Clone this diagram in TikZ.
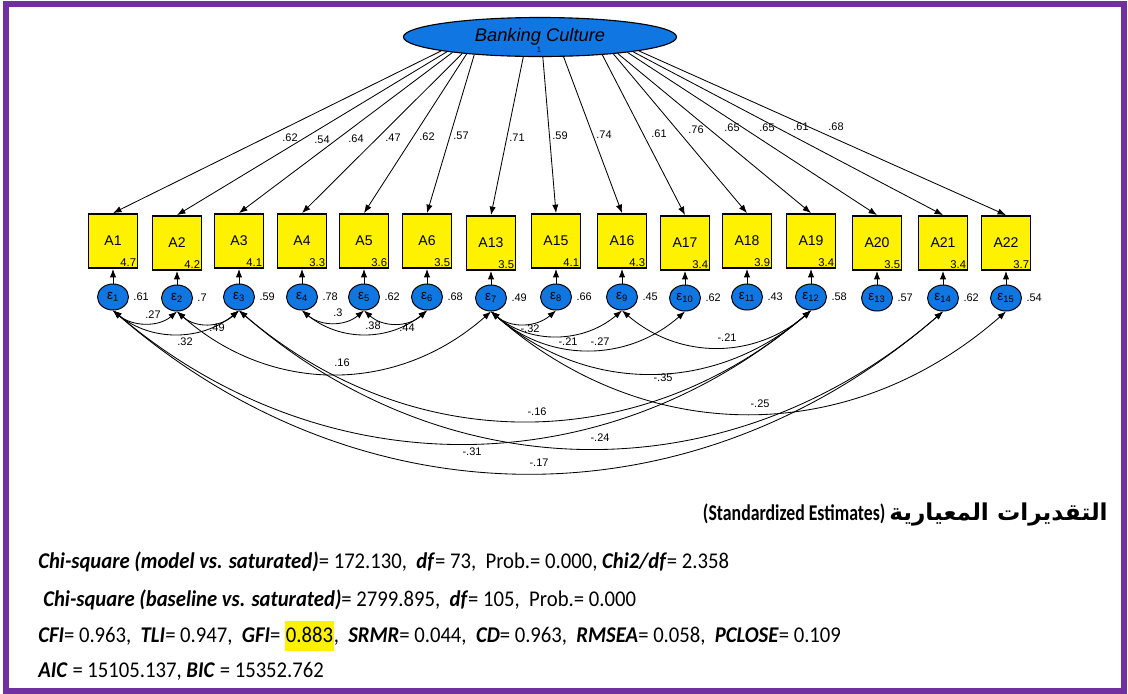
\documentclass[tikz,border=0pt]{standalone}
\usepackage{fontspec}
\setmainfont{Liberation Sans}
\newfontfamily\statfont[FakeStretch=0.92]{Carlito}
\newfontfamily\titlefont[FakeStretch=0.79]{Carlito}
\newfontfamily\arabicfont[Script=Arabic]{DejaVu Sans}
\TeXXeTstate=1
\usetikzlibrary{shapes.geometric,arrows.meta,positioning}
\definecolor{semblue}{RGB}{16,118,226}
\definecolor{framepurple}{RGB}{112,48,160}
\newcommand{\bfit}[1]{\textbf{\textit{#1}}}
\tikzset{
  latent/.style={ellipse, draw, line width=0.8pt, fill=semblue, minimum width=6.825cm, minimum height=0.975cm, font=\fontsize{13}{15}\selectfont\itshape},
  obs/.style={draw, line width=1.3pt, fill=yellow, minimum width=1.225cm, minimum height=1.35cm, inner sep=0pt, font=\fontsize{10}{12}\selectfont},
  err/.style={ellipse, draw, line width=0.7pt, fill=semblue, minimum width=0.775cm, minimum height=0.65cm, inner sep=0pt, font=\fontsize{9.5}{10}\selectfont},
  est/.style={inner sep=1pt, font=\fontsize{7.8}{9}\selectfont},
  mean/.style={inner sep=1.5pt, anchor=south east, font=\fontsize{8}{9}\selectfont},
  load/.style={-{Latex[length=6pt,width=4.5pt]}, line width=0.6pt},
  cov/.style={{Latex[length=6pt,width=4.5pt]}-{Latex[length=6pt,width=4.5pt]}, line width=0.6pt},
  stat/.style={anchor=west, inner sep=0pt, font=\statfont\fontsize{16}{18}\selectfont}
}
\begin{document}
\begin{tikzpicture}[x=0.025cm, y=-0.025cm]
\useasboundingbox (0,0) rectangle (1128,693);
\draw[framepurple, line width=4.3pt] (6,4) rectangle (1124,691);

% latent variable
\node[latent] (BC) at (540,37) {Banking Culture};
\node[inner sep=0pt, font=\fontsize{5.5}{6}\selectfont] (one) at (539,50) {1};

% indicators
\node[obs] (A1) at (113,241) {A1};
\node[obs] (A2) at (177,243) {A2};
\node[obs] (A3) at (239,241) {A3};
\node[obs] (A4) at (302,241) {A4};
\node[obs] (A5) at (364,241) {A5};
\node[obs] (A6) at (427,241) {A6};
\node[obs] (A13) at (491,243) {A13};
\node[obs] (A15) at (556,241) {A15};
\node[obs] (A16) at (622,241) {A16};
\node[obs] (A17) at (685,243) {A17};
\node[obs] (A18) at (747,241) {A18};
\node[obs] (A19) at (811,241) {A19};
\node[obs] (A20) at (877,243) {A20};
\node[obs] (A21) at (943,243) {A21};
\node[obs] (A22) at (1006,243) {A22};

% means
\node[mean] (m1) at (A1.south east) {4.7};
\node[mean] (m2) at (A2.south east) {4.2};
\node[mean] (m3) at (A3.south east) {4.1};
\node[mean] (m4) at (A4.south east) {3.3};
\node[mean] (m5) at (A5.south east) {3.6};
\node[mean] (m6) at (A6.south east) {3.5};
\node[mean] (m13) at (A13.south east) {3.5};
\node[mean] (m15) at (A15.south east) {4.1};
\node[mean] (m16) at (A16.south east) {4.3};
\node[mean] (m17) at (A17.south east) {3.4};
\node[mean] (m18) at (A18.south east) {3.9};
\node[mean] (m19) at (A19.south east) {3.4};
\node[mean] (m20) at (A20.south east) {3.5};
\node[mean] (m21) at (A21.south east) {3.4};
\node[mean] (m22) at (A22.south east) {3.7};

% loadings
\draw[load] (BC.188) -- (A1.north);
\draw[load] (BC.189) -- (A2.north);
\draw[load] (BC.190.5) -- (A3.north);
\draw[load] (BC.192) -- (A4.north);
\draw[load] (BC.193.5) -- (A5.north);
\draw[load] (BC.195) -- (A6.north);
\draw[load] (BC.230) -- (A13.north);
\draw[load] (BC.278) -- (A15.north);
\draw[load] (BC.320) -- (A16.north);
\draw[load] (BC.344.5) -- (A17.north);
\draw[load] (BC.347) -- (A18.north);
\draw[load] (BC.348.5) -- (A19.north);
\draw[load] (BC.350) -- (A20.north);
\draw[load] (BC.351) -- (A21.north);
\draw[load] (BC.352) -- (A22.north);
\node[est] (w1) at (290,138) {.62};
\node[est] (w2) at (322,140) {.54};
\node[est] (w3) at (356,139) {.64};
\node[est] (w4) at (393,138) {.47};
\node[est] (w5) at (427,137) {.62};
\node[est] (w6) at (461,136) {.57};
\node[est] (w13) at (517,138) {.71};
\node[est] (w15) at (560,136) {.59};
\node[est] (w16) at (604,135) {.74};
\node[est] (w17) at (659,134) {.61};
\node[est] (w18) at (696,130) {.76};
\node[est] (w19) at (732,128) {.65};
\node[est] (w20) at (767,128) {.65};
\node[est] (w21) at (801,127) {.61};
\node[est] (w22) at (836,127) {.68};

% errors
\node[err] (e1) at (113,297) {ε\textsubscript{1}};
\node[err] (e2) at (177,298) {ε\textsubscript{2}};
\node[err] (e3) at (239,297) {ε\textsubscript{3}};
\node[err] (e4) at (302,297) {ε\textsubscript{4}};
\node[err] (e5) at (364,297) {ε\textsubscript{5}};
\node[err] (e6) at (427,297) {ε\textsubscript{6}};
\node[err] (e7) at (491,298) {ε\textsubscript{7}};
\node[err] (e8) at (556,297) {ε\textsubscript{8}};
\node[err] (e9) at (622,297) {ε\textsubscript{9}};
\node[err] (e10) at (685,298) {ε\textsubscript{10}};
\node[err] (e11) at (747,297) {ε\textsubscript{11}};
\node[err] (e12) at (811,297) {ε\textsubscript{12}};
\node[err] (e13) at (877,298) {ε\textsubscript{13}};
\node[err] (e14) at (943,298) {ε\textsubscript{14}};
\node[err] (e15) at (1006,298) {ε\textsubscript{15}};
\draw[load] (e1) -- (A1);
\draw[load] (e2) -- (A2);
\draw[load] (e3) -- (A3);
\draw[load] (e4) -- (A4);
\draw[load] (e5) -- (A5);
\draw[load] (e6) -- (A6);
\draw[load] (e7) -- (A13);
\draw[load] (e8) -- (A15);
\draw[load] (e9) -- (A16);
\draw[load] (e10) -- (A17);
\draw[load] (e11) -- (A18);
\draw[load] (e12) -- (A19);
\draw[load] (e13) -- (A20);
\draw[load] (e14) -- (A21);
\draw[load] (e15) -- (A22);
\node[est, right=2pt of e1] (v1) {.61};
\node[est, right=2pt of e2] (v2) {.7};
\node[est, right=2pt of e3] (v3) {.59};
\node[est, right=2pt of e4] (v4) {.78};
\node[est, right=2pt of e5] (v5) {.62};
\node[est, right=2pt of e6] (v6) {.68};
\node[est, right=2pt of e7] (v7) {.49};
\node[est, right=2pt of e8] (v8) {.66};
\node[est, right=2pt of e9] (v9) {.45};
\node[est, right=2pt of e10] (v10) {.62};
\node[est, right=2pt of e11] (v11) {.43};
\node[est, right=2pt of e12] (v12) {.58};
\node[est, right=2pt of e13] (v13) {.57};
\node[est, right=2pt of e14] (v14) {.62};
\node[est, right=2pt of e15] (v15) {.54};

% error covariances
\draw[cov] (e1.south) .. controls +(19,16) and +(-19,16) .. (e2.south);
\draw[cov] (e1.south) .. controls +(38,31) and +(-38,31) .. (e3.south);
\draw[cov] (e2.south) .. controls +(19,17) and +(-19,17) .. (e3.south);
\draw[cov] (e2.south) .. controls +(94,83) and +(-94,83) .. (e7.south);
\draw[cov] (e4.south) .. controls +(19,16) and +(-19,16) .. (e5.south);
\draw[cov] (e4.south) .. controls +(38,31) and +(-38,31) .. (e6.south);
\draw[cov] (e5.south) .. controls +(19,17) and +(-19,17) .. (e6.south);
\draw[cov] (e7.south) .. controls +(20,17) and +(-20,17) .. (e8.south);
\draw[cov] (e7.south) .. controls +(39,33) and +(-39,33) .. (e9.south);
\draw[cov] (e7.south) .. controls +(58,51) and +(-58,51) .. (e10.south);
\draw[cov] (e7.south) .. controls +(96,83) and +(-96,83) .. (e12.south);
\draw[cov] (e7.south) .. controls +(155,136) and +(-155,136) .. (e15.south);
\draw[cov] (e9.south) .. controls +(57,49) and +(-57,49) .. (e12.south);
\draw[cov] (e3.south) .. controls +(172,147) and +(-172,147) .. (e12.south);
\draw[cov] (e3.south) .. controls +(211,183) and +(-211,183) .. (e14.south);
\draw[cov] (e1.south) .. controls +(209,177) and +(-209,177) .. (e12.south);
\draw[cov] (e1.south) .. controls +(249,216) and +(-249,216) .. (e14.south);
\node[est] (c1) at (153,315) {.27};
\node[est] (c2) at (185,342) {.32};
\node[est] (c3) at (217,328) {.49};
\node[est] (c4) at (342,363) {.16};
\node[est] (c5) at (338,313) {.3};
\node[est] (c6) at (373,326) {.38};
\node[est] (c7) at (407,328) {.44};
\node[est] (c8) at (530,329) {-.32};
\node[est] (c9) at (568,342) {-.21};
\node[est] (c10) at (600,342) {-.27};
\node[est] (c11) at (663,378) {-.35};
\node[est] (c12) at (760,404) {-.25};
\node[est] (c13) at (727,338) {-.21};
\node[est] (c14) at (537,412) {-.16};
\node[est] (c15) at (600,438) {-.24};
\node[est] (c16) at (472,452) {-.31};
\node[est] (c17) at (539,463) {-.17};

% fit statistics
\node[anchor=east, inner sep=0pt, font=\titlefont\fontsize{16}{18}\selectfont\bfseries] (title) at (1108,515)
  {(Standardized Estimates) {\arabicfont\fontsize{16.5}{18}\selectfont\beginR التقديرات المعيارية\endR}};
\node[stat] (s1) at (38,562) {\bfit{Chi-square (model vs. saturated)}= 172.130,\ \ \bfit{df}= 73,\ \ Prob.= 0.000, \bfit{Chi2/df}= 2.358};
\node[stat] (s2) at (43,600) {\bfit{Chi-square (baseline vs. saturated)}= 2799.895,\ \ \bfit{df}= 105,\ \ Prob.= 0.000};
\node[stat] (s3) at (38,636) {\bfit{CFI}= 0.963,\ \ \bfit{TLI}= 0.947,\ \ \bfit{GFI}= {\setlength{\fboxsep}{0.5pt}\colorbox{yellow}{\rule[-5.5pt]{0pt}{20pt}0.883}},\ \ \bfit{SRMR}= 0.044,\ \ \bfit{CD}= 0.963,\ \ \bfit{RMSEA}= 0.058,\ \ \bfit{PCLOSE}= 0.109};
\node[stat] (s4) at (38,671) {\bfit{AIC} = 15105.137, \bfit{BIC} = 15352.762};
\end{tikzpicture}
\end{document}
